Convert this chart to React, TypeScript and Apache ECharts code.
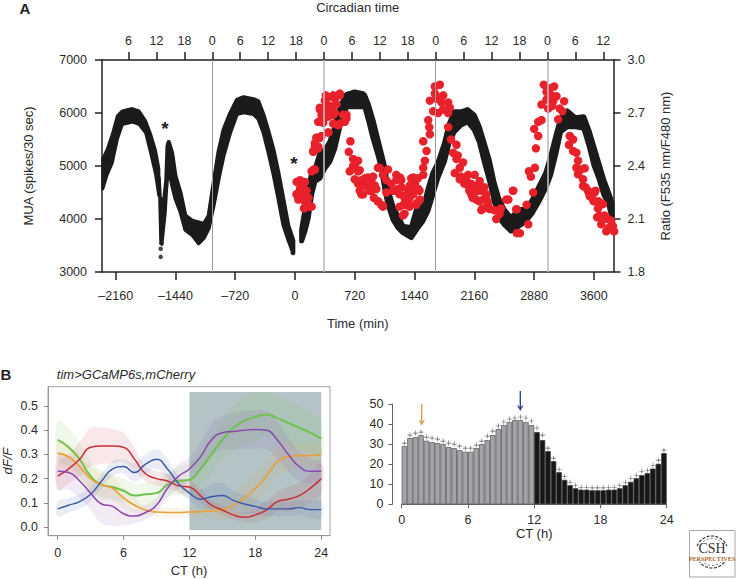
import React, { useEffect, useRef } from "react";
import * as echarts from "echarts";

const FONT = "'Liberation Sans', Arial, sans-serif";
const TEXT = "#2b2b2b";

// Panel A
const timeTicks = [-2160, -1440, -720, 0, 720, 1440, 2160, 2880, 3600];
const circadianTicks = [-18, -12, -6, 0, 6, 12, 18, 24, 30, 36, 42, 48, 54, 60, 66, 72, 78, 84];
const circadianMidnights = [0, 24, 48, 72];
// [time, lower edge of the trace, upper edge of the trace]
const muaDayOne = [[-2316, 4538, 5162], [-2260, 4819, 5350], [-2200, 5037, 5631], [-2140, 5475, 5975], [-2080, 5756, 6069], [-1960, 5800, 6112], [-1880, 5756, 6069], [-1800, 5600, 5881], [-1740, 5225, 5631], [-1680, 4819, 5319], [-1640, 4412, 4975]];
const muaSpike = [[-1632, 4300, 4800], [-1620, 3550, 4450], [-1600, 3500, 4300], [-1580, 3800, 4450], [-1560, 4100, 4750], [-1545, 4500, 5400], [-1530, 4800, 5480]];
const muaDayTwo = [[-1520, 4912, 5488], [-1480, 4600, 5287], [-1440, 4350, 4850], [-1380, 4100, 4537], [-1320, 3756, 4100], [-1240, 3663, 4006], [-1160, 3506, 3975], [-1100, 3600, 3944], [-1040, 3787, 4100], [-980, 4225, 4725], [-920, 4725, 5319], [-860, 5162, 5725], [-780, 5600, 6037], [-700, 5944, 6287], [-620, 5975, 6337], [-500, 5944, 6300], [-440, 5850, 6256], [-380, 5600, 6006], [-320, 5225, 5694], [-260, 4819, 5350], [-200, 4350, 4912], [-140, 3850, 4412], [-80, 3569, 3912], [-20, 3319, 3631]];
const muaDayThree = [[80, 3537, 3850], [120, 3725, 4225], [160, 3975, 4600], [200, 4412, 4912], [240, 4662, 4975], [300, 4725, 5287], [360, 4912, 5350], [420, 5037, 5506], [480, 5287, 5787], [540, 5694, 6162], [620, 6069, 6400], [720, 6069, 6444], [820, 6069, 6412], [840, 6069, 6381], [880, 5850, 6225], [940, 5475, 5912], [1000, 5162, 5537], [1040, 4912, 5287], [1080, 4537, 5037], [1120, 4225, 4600], [1180, 3944, 4287], [1240, 3787, 4100], [1300, 3694, 3912], [1400, 3600, 3881], [1480, 3787, 4319], [1540, 3912, 4225], [1600, 4100, 4600], [1660, 4412, 4912], [1720, 4725, 5100], [1800, 5037, 5475], [1860, 5412, 5850], [1920, 5600, 6069], [2000, 5725, 6069], [2080, 5787, 6112], [2160, 5631, 6006], [2220, 5412, 5787], [2280, 5037, 5475], [2340, 4694, 5162], [2400, 4287, 4725], [2460, 3975, 4412], [2520, 3850, 4225], [2600, 3725, 4069], [2700, 3819, 4225], [2780, 3912, 4225], [2860, 4069, 4412], [2940, 4287, 4662], [3020, 4537, 4912], [3080, 4787, 5225], [3140, 5162, 5600], [3200, 5600, 5944], [3280, 5694, 6087], [3380, 5694, 5956], [3480, 5662, 5975], [3540, 5350, 5725], [3600, 4975, 5412], [3660, 4725, 5100], [3720, 4412, 4787], [3780, 4225, 4537], [3820, 3975, 4350]];
const muaOutliers = [[-1618, 3440], [-1618, 3285], [-1610, 3540], [-28, 3360]];
const ratioEarly = [
  [20, 2.31], [60, 2.32], [120, 2.31], [20, 2.24], [60, 2.27], [100, 2.28], [140, 2.26], [80, 2.22], [120, 2.2], [160, 2.22], [200, 2.17], [160, 2.18], [108, 2.16], [200, 2.37], [240, 2.38], [220, 2.48], [260, 2.56], [300, 2.56], [240, 2.53], [280, 2.5], [300, 2.73], [360, 2.73], [400, 2.79], [460, 2.8], [540, 2.81], [340, 2.67], [400, 2.68], [300, 2.65], [460, 2.69], [380, 2.75], [500, 2.75], [580, 2.69], [620, 2.67], [540, 2.64], [460, 2.64], [400, 2.59],
  [372, 2.8], [360, 2.77], [540, 2.8], [480, 2.78], [520, 2.8], [300, 2.72], [360, 2.72], [420, 2.74], [320, 2.69], [380, 2.68], [280, 2.65], [340, 2.645], [420, 2.69], [440, 2.72], [480, 2.7], [620, 2.69], [600, 2.65], [520, 2.63], [400, 2.59], [260, 2.56], [320, 2.57], [240, 2.51], [220, 2.485], [280, 2.51], [228, 2.38],
  [40, 2.31], [100, 2.31], [20, 2.24], [80, 2.28], [120, 2.25], [40, 2.21], [120, 2.2], [160, 2.22], [120, 2.165], [180, 2.17], [60, 2.24],
];
const ratioFirstNight = [
  [668, 2.54], [648, 2.48], [700, 2.44], [760, 2.43], [720, 2.4], [660, 2.37], [780, 2.376], [720, 2.325], [760, 2.3], [880, 2.335], [920, 2.31], [840, 2.29], [800, 2.24], [900, 2.26], [960, 2.29], [1000, 2.39], [1120, 2.38], [1220, 2.35], [1060, 2.35], [1000, 2.2], [1060, 2.175], [1240, 2.27], [1320, 2.23], [1320, 2.18], [1360, 2.26], [1300, 2.12], [1220, 2.32],
  [760, 2.37], [800, 2.32], [780, 2.26], [820, 2.24], [860, 2.3], [900, 2.28], [940, 2.34], [880, 2.28], [920, 2.26], [980, 2.27], [1000, 2.2], [1040, 2.18], [1060, 2.17], [1020, 2.39], [1100, 2.32], [1160, 2.3], [1220, 2.26], [1260, 2.24], [1320, 2.22], [1260, 2.17], [1380, 2.22], [1440, 2.28], [1400, 2.33], [1500, 2.26], [1380, 2.17], [1320, 2.13], [1460, 2.18],
  [1285, 2.28], [1265, 2.335], [1325, 2.22], [1305, 2.18], [1385, 2.18], [1425, 2.335], [1445, 2.3], [1385, 2.29], [1485, 2.27], [1425, 2.24], [1505, 2.21], [1365, 2.23], [1465, 2.19], [1545, 2.35],
  [700, 2.4], [840, 2.33], [950, 2.22], [1100, 2.25], [1180, 2.26], [1280, 2.32], [1400, 2.27], [1480, 2.33],
];
const ratioSecondDay = [
  [1545, 2.39], [1565, 2.43], [1585, 2.485], [1545, 2.54], [1625, 2.58], [1617, 2.62], [1605, 2.66],
  [1685, 2.85], [1745, 2.86], [1685, 2.81], [1785, 2.8], [1625, 2.77], [1705, 2.78], [1765, 2.76], [1845, 2.76], [1665, 2.71], [1725, 2.7], [1785, 2.72], [1845, 2.7], [1865, 2.73],
  [1845, 2.62], [1945, 2.52], [1905, 2.475], [1945, 2.44], [2025, 2.42], [1925, 2.36], [1985, 2.39], [1985, 2.325], [2085, 2.35], [2165, 2.35], [2225, 2.315], [2085, 2.29], [2145, 2.28], [2225, 2.26], [2125, 2.24], [2185, 2.21], [2265, 2.21], [2305, 2.24], [2325, 2.18], [2245, 2.15], [2345, 2.156], [2425, 2.1], [2545, 2.21], [2625, 2.26], [2465, 2.13], [2665, 2.155], [2673, 2.02],
  [2040, 2.3], [2100, 2.26], [2180, 2.28], [2240, 2.26], [2140, 2.22], [2220, 2.2], [2300, 2.22], [2260, 2.16], [2400, 2.15], [2480, 2.16],
  [1880, 2.55], [1960, 2.46], [2000, 2.34], [2060, 2.32], [2120, 2.3], [2200, 2.29], [2280, 2.28], [2320, 2.2], [2160, 2.25],
];
const ratioThirdDay = [
  [2570, 2.21], [2630, 2.26], [2670, 2.155], [2790, 2.18], [2710, 2.02], [2810, 2.07], [2870, 2.25], [2842, 2.34], [2818, 2.37], [2890, 2.39], [2902, 2.5], [2930, 2.57], [2882, 2.61], [2930, 2.65], [2970, 2.66],
  [2998, 2.86], [3122, 2.85], [3030, 2.82], [3090, 2.8], [3150, 2.795], [3030, 2.776], [3110, 2.767], [3242, 2.767], [2970, 2.748], [3050, 2.725], [3190, 2.725], [3170, 2.664], [3070, 2.84], [3100, 2.74], [3220, 2.71],
  [3310, 2.57], [3350, 2.55], [3350, 2.485], [3390, 2.475], [3410, 2.43], [3390, 2.39], [3490, 2.387], [3410, 2.353], [3470, 2.325], [3470, 2.287], [3530, 2.26], [3610, 2.25], [3590, 2.21], [3710, 2.184], [3670, 2.12], [3730, 2.12], [3690, 2.07], [3750, 2.03], [3830, 2.06], [3845, 2.03], [3770, 2.1], [3810, 2.09],
  [3500, 2.28], [3540, 2.25], [3620, 2.26], [3600, 2.2], [3660, 2.2], [3640, 2.11],
  [3300, 2.52], [3440, 2.38], [3550, 2.23], [3650, 2.16], [3700, 2.1], [3780, 2.05],
];

// Panel B, traces (one value per hour, CT 0 to 24)
const ctHours = [0, 1, 2, 3, 4, 5, 6, 7, 8, 9, 10, 11, 12, 13, 14, 15, 16, 17, 18, 19, 20, 21, 22, 23, 24];
const greenTrace = [0.36, 0.33, 0.28, 0.21, 0.175, 0.165, 0.15, 0.13, 0.135, 0.14, 0.175, 0.19, 0.195, 0.24, 0.3, 0.36, 0.41, 0.44, 0.455, 0.465, 0.45, 0.43, 0.41, 0.39, 0.365];
const orangeTrace = [0.305, 0.29, 0.25, 0.2, 0.175, 0.16, 0.12, 0.09, 0.07, 0.062, 0.06, 0.06, 0.062, 0.063, 0.067, 0.072, 0.09, 0.12, 0.16, 0.21, 0.27, 0.29, 0.295, 0.295, 0.3];
const redTrace = [0.21, 0.24, 0.28, 0.33, 0.335, 0.335, 0.33, 0.28, 0.22, 0.2, 0.19, 0.17, 0.165, 0.13, 0.09, 0.07, 0.05, 0.04, 0.05, 0.07, 0.105, 0.115, 0.13, 0.16, 0.2];
const blueTrace = [0.075, 0.09, 0.105, 0.135, 0.19, 0.24, 0.25, 0.225, 0.26, 0.28, 0.24, 0.18, 0.14, 0.115, 0.125, 0.13, 0.11, 0.095, 0.085, 0.075, 0.075, 0.075, 0.08, 0.072, 0.072];
const purpleTrace = [0.23, 0.225, 0.19, 0.14, 0.095, 0.085, 0.055, 0.045, 0.06, 0.09, 0.16, 0.21, 0.24, 0.29, 0.36, 0.39, 0.395, 0.4, 0.403, 0.4, 0.36, 0.3, 0.25, 0.23, 0.23];
const greenSpread = [0.08, 0.08, 0.07, 0.06, 0.06, 0.05, 0.05, 0.05, 0.05, 0.05, 0.05, 0.06, 0.07, 0.07, 0.08, 0.08, 0.09, 0.1, 0.1, 0.09, 0.09, 0.09, 0.09, 0.08, 0.08];
const orangeSpread = [0.05, 0.05, 0.05, 0.05, 0.05, 0.05, 0.04, 0.03, 0.02, 0.02, 0.02, 0.02, 0.02, 0.02, 0.03, 0.04, 0.05, 0.06, 0.06, 0.06, 0.06, 0.06, 0.05, 0.05, 0.04];
const redSpread = [0.06, 0.06, 0.07, 0.08, 0.075, 0.07, 0.06, 0.05, 0.03, 0.03, 0.03, 0.03, 0.03, 0.03, 0.02, 0.02, 0.02, 0.02, 0.03, 0.035, 0.04, 0.05, 0.05, 0.06, 0.06];
const blueSpread = [0.03, 0.03, 0.03, 0.03, 0.03, 0.03, 0.03, 0.04, 0.04, 0.04, 0.04, 0.03, 0.03, 0.04, 0.05, 0.05, 0.04, 0.04, 0.03, 0.03, 0.03, 0.03, 0.03, 0.035, 0.035];
const purpleSpread = [0.07, 0.07, 0.07, 0.07, 0.08, 0.08, 0.05, 0.03, 0.03, 0.03, 0.04, 0.05, 0.05, 0.06, 0.07, 0.07, 0.075, 0.08, 0.08, 0.08, 0.075, 0.07, 0.06, 0.05, 0.04];

// Panel B, histogram (half-hour bins)
const barsDay = [29, 33, 33.5, 34.5, 31.7, 31, 30.5, 30, 28.5, 28, 27, 26.2, 26.2, 28, 30, 32, 34.5, 37.5, 39.5, 41, 42, 42, 41, 39.5];
const barsNight = [36, 32, 26.5, 21.5, 16, 12.2, 9.5, 8, 7.3, 7.3, 7, 7, 7, 7.3, 7.3, 8, 9.5, 11.2, 13, 14.5, 15.5, 17.8, 20.2, 25.5];
const plusDay = [30.5, 34.5, 35.5, 36, 33.5, 33, 32.5, 31.5, 30.5, 30, 29, 28, 28, 29.5, 31.5, 34, 36.5, 39, 41, 42.5, 43, 43.5, 43, 41.5];
const plusNight = [38, 34.5, 28, 23, 17.5, 14, 11, 9.5, 8.5, 8.5, 8.2, 8.2, 8.2, 8.5, 8.5, 9.5, 11, 13, 14.5, 16.5, 17, 19.5, 22, 27];
const ctTicks = [0, 6, 12, 18, 24];

const traces = [
  { name: "green", color: "#6ec24c", line: greenTrace, spread: greenSpread, width: 2 },
  { name: "orange", color: "#e6a23f", line: orangeTrace, spread: orangeSpread, width: 1.7 },
  { name: "red", color: "#c62f37", line: redTrace, spread: redSpread, width: 1.5 },
  { name: "blue", color: "#3c58a8", line: blueTrace, spread: blueSpread, width: 1.4 },
  { name: "purple", color: "#8a47ad", line: purpleTrace, spread: purpleSpread, width: 1.5 },
];

const envelope = (data: number[][], xAxisIndex: number, yAxisIndex: number, style: any, smooth: number, inset = 0) => ({
  type: "custom", xAxisIndex, yAxisIndex, silent: true, clip: false, data,
  encode: { x: 0, y: [1, 2] },
  renderItem: (params: any, api: any) => {
    if (params.dataIndex !== 0) return null;
    const lower = data.map((d) => {
      const p = api.coord([d[0], d[1]]);
      return [p[0], p[1] - inset];
    });
    const upper = data.map((d) => {
      const p = api.coord([d[0], d[2]]);
      return [p[0], p[1] + inset];
    }).reverse();
    return { type: "polygon", shape: { points: [...lower, ...upper], smooth }, style };
  },
});

const blackTrace = (lineWidth: number) => ({ fill: "#1b1b1b", stroke: "#1b1b1b", lineWidth, lineJoin: "round" });

const label = (text: string, x: number, y: number, extra: any = {}) => ({
  type: "text", x, y, silent: true,
  style: { text, fontFamily: FONT, fontSize: 13, fill: TEXT, align: "center", verticalAlign: "middle", ...extra },
});

const arrow = (x: number, y0: number, y1: number, color: string) => [
  { type: "line", silent: true, shape: { x1: x, y1: y0, x2: x, y2: y1 - 3 }, style: { stroke: color, lineWidth: 1.4 } },
  { type: "polygon", silent: true, shape: { points: [[x - 3.5, y1 - 6], [x, y1 - 4], [x + 3.5, y1 - 6], [x, y1]] }, style: { fill: color } },
];

function buildOption(): any {
  const axisFont = { fontFamily: FONT, fontSize: 12.5, color: TEXT };
  const nameFont = { fontFamily: FONT, fontSize: 13, color: TEXT };
  const darkLine = { show: true, onZero: false, lineStyle: { color: "#222", width: 1.5 } };
  const darkTick = (values: number[], length: number) => ({ show: true, length, customValues: values, lineStyle: { color: "#222", width: 1.5 } });
  const softLine = { show: true, onZero: false, lineStyle: { color: "#999", width: 1 } };
  const softTick = (values: number[]) => ({ show: true, length: 4, customValues: values, lineStyle: { color: "#888", width: 1 } });
  const barLine = { show: true, onZero: false, lineStyle: { color: "#666", width: 1 } };
  const barTick = (values: number[], length: number) => ({ show: true, length, customValues: values, lineStyle: { color: "#666", width: 1 } });
  const dfTicks = [0, 0.1, 0.2, 0.3, 0.4, 0.5];
  const mTicks = [3000, 4000, 5000, 6000, 7000];
  const rTicks = [1.8, 2.1, 2.4, 2.7, 3.0];
  const cTicks = [0, 10, 20, 30, 40, 50];
  const halfBins = [...barsDay, ...barsNight].map((_, i) => 0.25 + i * 0.5);

  const bands = traces.map((t) =>
    envelope(ctHours.map((h, i) => [h, t.line[i] - t.spread[i], t.line[i] + t.spread[i]]), 2, 2, { fill: t.color, opacity: 0.11 }, 0.4)
  );
  const lines = traces.map((t) => ({
    type: "line", xAxisIndex: 2, yAxisIndex: 2, smooth: 0.5, showSymbol: false, silent: true,
    lineStyle: { color: t.color, width: t.width },
    data: ctHours.map((h, i) => [h, t.line[i]]),
  }));

  return {
    animation: false,
    backgroundColor: "#fff",
    grid: [
      { left: 102, top: 58, width: 511.5, height: 214 },
      { left: 47, top: 386.7, width: 283, height: 149, show: true, borderColor: "#a3a3a3", borderWidth: 1, backgroundColor: "transparent" },
      { left: 401.7, top: 404, width: 265, height: 100.3 },
    ],
    xAxis: [
      {
        type: "value", gridIndex: 0, min: -2325, max: 3837, position: "bottom", splitLine: { show: false },
        axisLine: darkLine, axisTick: darkTick(timeTicks, 8),
        axisLabel: { ...axisFont, margin: 17, customValues: timeTicks, formatter: (v: number) => (v < 0 ? "–" + Math.abs(v) : String(v)) },
        name: "Time (min)", nameLocation: "center", nameGap: 45, nameTextStyle: nameFont,
      },
      {
        type: "value", gridIndex: 0, min: -23.7, max: 86.2, position: "top", splitLine: { show: false },
        axisLine: darkLine, axisTick: darkTick(circadianTicks, 8),
        axisLabel: { ...axisFont, margin: 13, customValues: circadianTicks, formatter: (v: number) => String(((v % 24) + 24) % 24) },
        name: "Circadian time", nameLocation: "center", nameGap: 46, nameTextStyle: nameFont,
      },
      {
        type: "value", gridIndex: 1, min: -0.88, max: 24.8, splitLine: { show: false },
        axisLine: softLine, axisTick: softTick(ctTicks),
        axisLabel: { ...axisFont, margin: 11, customValues: ctTicks, formatter: (v: number) => String(v) },
        name: "CT (h)", nameLocation: "center", nameGap: 28, nameTextStyle: nameFont,
      },
      {
        type: "value", gridIndex: 2, min: 0, max: 24, splitLine: { show: false },
        axisLine: barLine, axisTick: barTick(ctTicks, 4),
        axisLabel: { ...axisFont, margin: 9, customValues: ctTicks, formatter: (v: number) => String(v) },
        name: "CT (h)", nameLocation: "center", nameGap: 23, nameTextStyle: nameFont,
      },
    ],
    yAxis: [
      {
        type: "value", gridIndex: 0, min: 3000, max: 7000, position: "left", splitLine: { show: false },
        axisLine: darkLine, axisTick: darkTick(mTicks, 7),
        axisLabel: { ...axisFont, margin: 15, customValues: mTicks, formatter: (v: number) => String(v) },
        name: "MUA (spikes/30 sec)", nameLocation: "center", nameGap: 67, nameTextStyle: nameFont,
      },
      {
        type: "value", gridIndex: 0, min: 1.8, max: 3.0, position: "right", splitLine: { show: false },
        axisLine: darkLine, axisTick: darkTick(rTicks, 7),
        axisLabel: { ...axisFont, margin: 14, customValues: rTicks, formatter: (v: number) => v.toFixed(1) },
        name: "Ratio (F535 nm/F480 nm)", nameLocation: "center", nameGap: 45, nameTextStyle: nameFont,
      },
      {
        type: "value", gridIndex: 1, min: -0.036, max: 0.58, splitLine: { show: false },
        axisLine: softLine, axisTick: softTick(dfTicks),
        axisLabel: { ...axisFont, margin: 10, customValues: dfTicks, formatter: (v: number) => v.toFixed(1) },
        name: "dF/F", nameLocation: "center", nameGap: 34, nameTextStyle: { ...nameFont, fontStyle: "italic" },
      },
      {
        type: "value", gridIndex: 2, min: 0, max: 50, offset: 9.3, splitLine: { show: false },
        axisLine: barLine, axisTick: barTick(cTicks, 4),
        axisLabel: { ...axisFont, margin: 9, customValues: cTicks, formatter: (v: number) => String(v) },
      },
    ],
    series: [
      {
        type: "line", xAxisIndex: 1, yAxisIndex: 0, data: [], silent: true,
        markLine: {
          silent: true, symbol: "none", label: { show: false },
          data: circadianMidnights.map((m, i) => ({ xAxis: m, lineStyle: { color: i % 2 ? "#bdbdbd" : "#9a9a9a", width: i % 2 ? 1.6 : 1, type: "solid" } })),
        },
      },
      {
        type: "scatter", xAxisIndex: 0, yAxisIndex: 1, data: [...ratioEarly, ...ratioFirstNight, ...ratioSecondDay, ...ratioThirdDay], symbolSize: 8.5, clip: false, silent: true,
        itemStyle: { color: "#e8212b", opacity: 1 },
      },
      envelope(muaDayOne, 0, 0, blackTrace(3), 0, 1.5),
      envelope(muaSpike, 0, 0, blackTrace(2.5), 0, 1),
      envelope(muaDayTwo, 0, 0, blackTrace(4), 0, 2),
      envelope(muaDayThree, 0, 0, blackTrace(5), 0, 2.5),
      {
        type: "scatter", xAxisIndex: 0, yAxisIndex: 0, data: muaOutliers, symbolSize: 4.5, silent: true,
        itemStyle: { color: "#1b1b1b" },
      },
      {
        type: "line", xAxisIndex: 2, yAxisIndex: 2, data: [], silent: true,
        markArea: {
          silent: true, itemStyle: { color: "#b4c4c6", opacity: 1 },
          data: [[{ xAxis: 12, yAxis: -0.012 }, { xAxis: 24, yAxis: 0.558 }]],
        },
      },
      ...bands,
      ...lines,
      {
        type: "bar", xAxisIndex: 3, yAxisIndex: 3, barWidth: 5.5, clip: false, silent: true,
        data: [...barsDay, ...barsNight].map((v, i) => ({
          value: [halfBins[i], v],
          itemStyle: i < barsDay.length
            ? { color: "#a3a4a7", borderColor: "#5f6062", borderWidth: 0.8 }
            : { color: "#161616", borderColor: "#3a3a3a", borderWidth: 0.8 },
        })),
      },
      {
        type: "scatter", xAxisIndex: 3, yAxisIndex: 3, silent: true, clip: false,
        symbol: "path://M4.4 0H5.6V4.4H10V5.6H5.6V10H4.4V5.6H0V4.4H4.4Z", symbolSize: 5,
        itemStyle: { color: "#333" },
        data: [...plusDay, ...plusNight].map((v, i) => [halfBins[i], v]),
      },
    ],
    graphic: {
      elements: [
        label("A", 25, 8, { fontWeight: "bold", fontSize: 15, fill: "#222" }),
        label("B", 6, 374, { fontWeight: "bold", fontSize: 15, fill: "#222" }),
        label("*", 165, 128, { fontWeight: "bold", fontSize: 19, fill: "#222" }),
        label("*", 294, 163, { fontWeight: "bold", fontSize: 19, fill: "#222" }),
        label("tim>GCaMP6s,mCherry", 126, 374, { fontStyle: "italic", fontSize: 13 }),
        ...arrow(421.7, 404, 425.5, "#dd9f52"),
        ...arrow(520.3, 391, 411, "#31479c"),
        { type: "rect", silent: true, shape: { x: 689.5, y: 530.5, width: 45.5, height: 46.5 }, style: { fill: "#fff", stroke: "#a8a8a8", lineWidth: 1 } },
        { type: "arc", silent: true, shape: { cx: 712, cy: 552, r: 16, startAngle: Math.PI * 1.12, endAngle: Math.PI * 1.88 }, style: { fill: "none", stroke: "#333", lineWidth: 1.2, lineDash: [3, 1.5] } },
        { type: "arc", silent: true, shape: { cx: 712, cy: 552, r: 13.5, startAngle: Math.PI * 1.18, endAngle: Math.PI * 1.82 }, style: { fill: "none", stroke: "#555", lineWidth: 0.8, lineDash: [2, 2] } },
        { type: "arc", silent: true, shape: { cx: 712, cy: 552, r: 16, startAngle: Math.PI * 0.22, endAngle: Math.PI * 0.78 }, style: { fill: "none", stroke: "#333", lineWidth: 1.2, lineDash: [3, 1.5] } },
        { type: "arc", silent: true, shape: { cx: 712, cy: 552, r: 13.5, startAngle: Math.PI * 0.26, endAngle: Math.PI * 0.74 }, style: { fill: "none", stroke: "#555", lineWidth: 0.8, lineDash: [2, 2] } },
        label("CSH", 712, 548, { fontFamily: "'Liberation Serif', serif", fontSize: 14, fill: "#333" }),
        label("PERSPECTIVES", 712, 558, { fontFamily: "'Liberation Serif', serif", fontSize: 6.2, fontWeight: "bold", fill: "#b5662a" }),
      ],
    },
  };
}

export default function App() {
  const ref = useRef<HTMLDivElement>(null);
  useEffect(() => {
    const chart = echarts.init(ref.current!, undefined, { renderer: "svg" });
    chart.setOption(buildOption());
    return () => chart.dispose();
  }, []);
  return <div ref={ref} style={{ position: "absolute", left: 0, top: 0, width: 737, height: 579 }} />;
}
